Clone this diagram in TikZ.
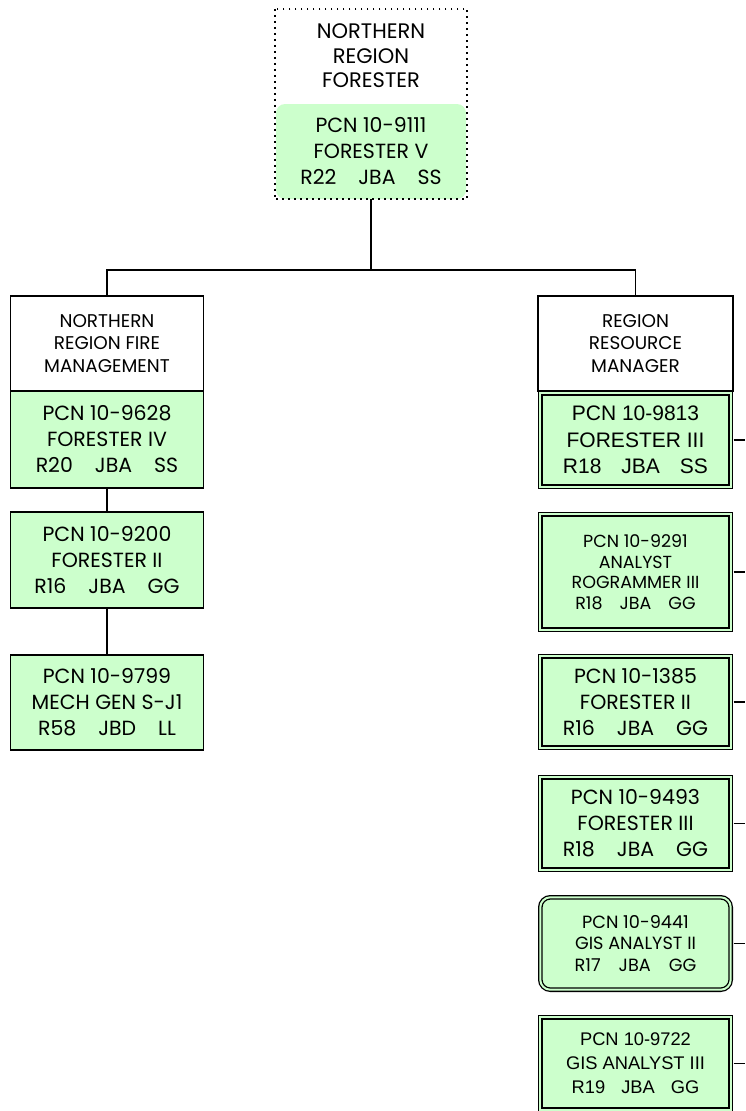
\documentclass[tikz,border=0pt]{standalone}
\usepackage{fontspec}
\setmainfont{Poppins}
\newfontfamily\arialf{Liberation Sans}
\definecolor{gfill}{HTML}{CCFFCC}
\begin{document}
\begin{tikzpicture}[x=1pt,y=-1pt,
  conn/.style={line width=1.5pt},
  titlebox/.style={draw, line width=1.5pt, fill=white, align=center, inner sep=0pt, minimum width=#1},
  gbox/.style={draw, line width=1.5pt, fill=gfill, align=center, inner sep=0pt, minimum width=#1},
  dbox/.style={draw, fill=gfill, line width=1.3pt, double=gfill, double distance=2pt, align=center, inner sep=0pt},
  fbig/.style={font=\fontsize{20.5}{26}\selectfont},
  fhead/.style={font=\fontsize{18.4}{22.5}\selectfont},
  fsmall/.style={font=\fontsize{17.5}{20.5}\selectfont},
]
\useasboundingbox (0,0) rectangle (745,1111);
% top
\node[align=center, inner sep=0pt, minimum width=192pt, minimum height=94pt, font=\fontsize{21}{24.5}\selectfont] (ttitle) at (371,56) {NORTHERN\\REGION\\FORESTER};
\node[fill=gfill, rounded corners=9pt, align=center, inner sep=0pt, minimum width=190pt, minimum height=95pt, fbig] (tg) at (371,151.5) {PCN 10-9111\\FORESTER V\\R22\hspace*{22pt}JBA\hspace*{22pt}SS};
\draw[line width=1.8pt, dash pattern=on 1.8pt off 4.2pt] (ttitle.north west) rectangle (tg.south east -| ttitle.east);
% left column
\node[titlebox=193pt, minimum height=95pt, fhead] (lt) at (107,343.5) {NORTHERN\\REGION FIRE\\MANAGEMENT};
\node[gbox=193pt, minimum height=97pt, fbig] (l1) at (107,439.5) {PCN 10-9628\\FORESTER IV\\R20\hspace*{22pt}JBA\hspace*{22pt}SS};
\node[gbox=193pt, minimum height=96pt, fbig] (l2) at (107,560) {PCN 10-9200\\FORESTER II\\R16\hspace*{22pt}JBA\hspace*{22pt}GG};
\node[gbox=193pt, minimum height=95pt, fbig] (l3) at (107,702.5) {PCN 10-9799\\MECH GEN S-J1\\R58\hspace*{22pt}JBD\hspace*{22pt}LL};
% right column
\node[titlebox=195pt, minimum height=95pt, fhead] (rt) at (635.5,343.5) {REGION\\RESOURCE\\MANAGER};
\node[dbox, minimum width=190.4pt, minimum height=93.4pt, font=\arialf\fontsize{21}{26.5}\selectfont] (r1) at (635.5,440) {PCN 10-9813\\FORESTER III\\R18\hspace*{20pt}JBA\hspace*{20pt}SS};
\node[dbox, minimum width=190.4pt, minimum height=115.4pt, fsmall] (r2) at (635.5,572) {PCN 10-9291\\ANALYST\\ROGRAMMER III\\R18\hspace*{17pt}JBA\hspace*{17pt}GG};
\node[dbox, minimum width=190.4pt, minimum height=91.4pt, fbig] (r3) at (635.5,702) {PCN 10-1385\\FORESTER II\\R16\hspace*{22pt}JBA\hspace*{22pt}GG};
\node[dbox, minimum width=190.4pt, minimum height=92.4pt, fbig] (r4) at (635.5,823.5) {PCN 10-9493\\FORESTER III\\R18\hspace*{22pt}JBA\hspace*{22pt}GG};
\node[dbox, rounded corners=10pt, minimum width=190.4pt, minimum height=92.4pt, font=\fontsize{17.7}{21.5}\selectfont] (r5) at (635.5,943.5) {PCN 10-9441\\GIS ANALYST II\\R17\hspace*{18pt}JBA\hspace*{18pt}GG};
\node[dbox, minimum width=190.4pt, minimum height=92.4pt, font=\arialf\fontsize{18.3}{24}\selectfont] (r6) at (635.5,1063.5) {PCN 10-9722\\GIS ANALYST III\\R19\hspace*{16pt}JBA\hspace*{16pt}GG};
% connectors
\coordinate (j) at (371,270);
\coordinate (edge) at (745,0);
\draw[conn] (tg.south) -- (j);
\draw[conn] (lt.north) |- (j) -| (rt.north);
\draw[conn] (l1.south) -- (l2.north);
\draw[conn] (l2.south) -- (l3.north);
\foreach \n in {r1,r2,r3,r4,r5,r6}{
  \draw[conn] ([xshift=2.3pt]\n.east) -- (\n.east -| edge);
}
\end{tikzpicture}
\end{document}
